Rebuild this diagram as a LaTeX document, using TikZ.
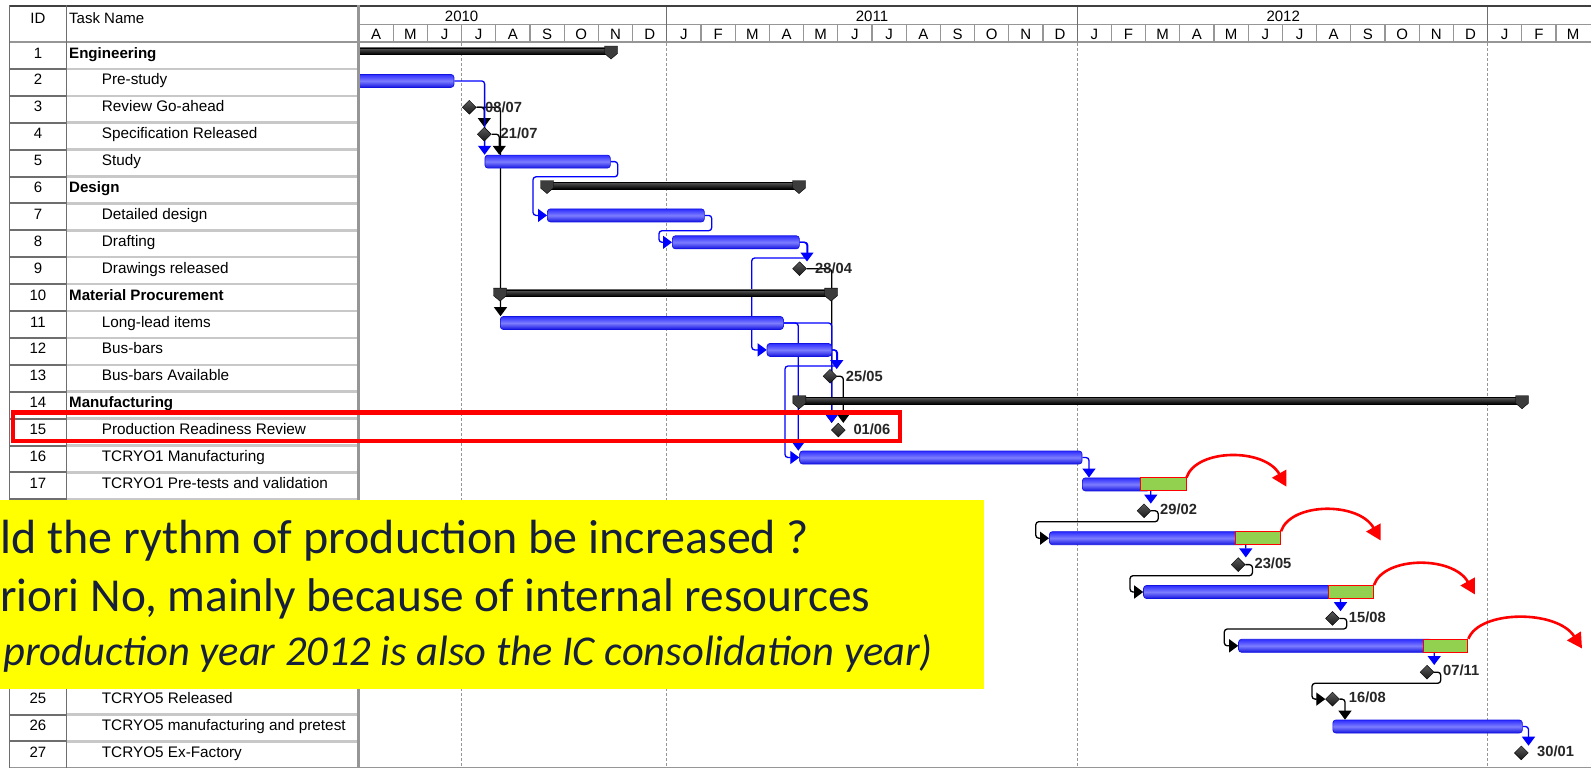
\documentclass[tikz,border=0pt]{standalone}
\usepackage{fontspec}
\setmainfont{Liberation Sans}
\newfontfamily\calib{Carlito}
\usetikzlibrary{arrows.meta,shapes.geometric}
\definecolor{linkblue}{RGB}{0,0,255}
\definecolor{barblue}{RGB}{45,45,255}
\definecolor{barlight}{RGB}{125,125,255}
\definecolor{bardraw}{RGB}{20,20,225}
\definecolor{capgray}{RGB}{60,60,60}
\definecolor{grn}{RGB}{146,208,80}
\definecolor{ylw}{RGB}{255,255,0}
\definecolor{navy}{RGB}{22,32,58}
\definecolor{gridgray}{RGB}{150,150,150}
\definecolor{sepdark}{RGB}{110,110,110}
\definecolor{seplight}{RGB}{200,200,200}
\pgfdeclarelayer{back}
\pgfdeclarelayer{lk}
\pgfdeclarelayer{front}
\pgfsetlayers{back,lk,main,front}
\newcommand{\scap}[2]{\fill[capgray,draw=black,line width=0.4pt] (#1-6.5,#2+4) -- (#1+6.5,#2+4) -- (#1+6.5,#2+11.5) -- (#1,#2+17) -- (#1-6.5,#2+11.5) -- cycle;}
\begin{document}
\begin{tikzpicture}[x=1pt,y=-1pt,
  hdr/.style={font=\fontsize{15}{17}\selectfont, inner sep=0pt, text=black},
  idn/.style={font=\fontsize{15}{17}\selectfont, inner sep=0pt, anchor=base},
  tsk/.style={font=\fontsize{15.3}{17}\selectfont, inner sep=0pt, anchor=base west},
  sumt/.style={font=\bfseries\fontsize{15.1}{17}\selectfont, inner sep=0pt, anchor=base west},
  bar/.style={rectangle, rounded corners=3pt, minimum height=13pt, inner sep=0pt, anchor=west, draw=bardraw, line width=0.7pt, top color=barblue, bottom color=bardraw, middle color=barlight},
  gpart/.style={rectangle, minimum height=13pt, inner sep=0pt, anchor=west, fill=grn, draw=red, line width=1pt},
  sumbar/.style={rectangle, minimum height=6.5pt, inner sep=0pt, anchor=west, top color=gray!70!black, bottom color=black, draw=black, line width=0.4pt},
  ms/.style={diamond, minimum width=14pt, minimum height=14pt, inner sep=0pt, draw=black, line width=0.4pt, top color=gray!70!black, bottom color=black!90},
  dlbl/.style={font=\bfseries\fontsize{14.7}{16}\selectfont, text=black!85, inner sep=0pt, anchor=base west},
  blink/.style={draw=linkblue, line width=1.3pt, rounded corners=3pt, -{Triangle[width=13pt,length=9pt]}},
  klink/.style={draw=black, line width=1.3pt, rounded corners=3pt, -{Triangle[width=13pt,length=9pt]}},
  rarr/.style={draw=red, line width=2.6pt, -{Triangle[width=16pt,length=15pt]}},
  ytxt/.style={font=\calib\fontsize{48}{58}\selectfont, text=navy, inner sep=0pt, anchor=base west}
]
\useasboundingbox (0,0) rectangle (1591,769);
\begin{pgfonlayer}{back}
\fill[white] (0,0) rectangle (1591,769);
\foreach \x in {461.6,666.8,1077.2,1487.6} \draw[gridgray, line width=1.3pt, dash pattern=on 3pt off 2pt] (\x,43) -- (\x,766);
\draw[gridgray, line width=1pt] (358.3,24.3) -- (1591,24.3);
\foreach \i in {1,...,35} \draw[gridgray, line width=1.2pt] ({359+34.2*\i},24.3) -- ({359+34.2*\i},42);
\foreach \i in {9,21,33} \draw[sepdark, line width=1.3pt] ({359+34.2*\i},6) -- ({359+34.2*\i},42);
\foreach \k in {1,...,26} {
  \draw[seplight, line width=2.5pt] (66.7,{42+26.9*\k}) -- (358.3,{42+26.9*\k});
  \draw[sepdark, line width=2pt] (9.3,{42+26.9*\k}) -- (66.7,{42+26.9*\k});
}
\draw[line width=2pt, black!75] (9,6) -- (1591,6);
\draw[line width=2.5pt, gridgray] (9,42) -- (1591,42);
\draw[line width=1.5pt, gridgray] (9,767.5) -- (1591,767.5);
\draw[line width=1.5pt, sepdark] (9.3,5) -- (9.3,768);
\draw[line width=1.3pt, sepdark] (66.7,5) -- (66.7,768);
\end{pgfonlayer}

% header
\node[hdr, anchor=base] (hid) at (38,23) {ID};
\node[hdr, anchor=base west] (htn) at (69,23) {Task Name};
\node[hdr, anchor=base] (y10) at (461.6,21.5) {2010};
\node[hdr, anchor=base] (y11) at (872,21.5) {2011};
\node[hdr, anchor=base] (y12) at (1283.2,21.5) {2012};
\foreach \l [count=\i from 0] in {A,M,J,J,A,S,O,N,D,J,F,M,A,M,J,J,A,S,O,N,D,J,F,M,A,M,J,J,A,S,O,N,D,J,F,M}
  \node[hdr, anchor=base] (mo\i) at ({359+34.2*(\i+0.5)},39) {\l};

% table
\node[idn] (id1) at (38,58) {1};      \node[sumt] (tn1) at (69,58) {Engineering};
\node[idn] (id2) at (38,84.9) {2};    \node[tsk] (tn2) at (101.7,84.9) {Pre-study};
\node[idn] (id3) at (38,111.8) {3};   \node[tsk] (tn3) at (101.7,111.8) {Review Go-ahead};
\node[idn] (id4) at (38,138.7) {4};   \node[tsk] (tn4) at (101.7,138.7) {Specification Released};
\node[idn] (id5) at (38,165.6) {5};   \node[tsk] (tn5) at (101.7,165.6) {Study};
\node[idn] (id6) at (38,192.5) {6};   \node[sumt] (tn6) at (69,192.5) {Design};
\node[idn] (id7) at (38,219.4) {7};   \node[tsk] (tn7) at (101.7,219.4) {Detailed design};
\node[idn] (id8) at (38,246.3) {8};   \node[tsk] (tn8) at (101.7,246.3) {Drafting};
\node[idn] (id9) at (38,273.2) {9};   \node[tsk] (tn9) at (101.7,273.2) {Drawings released};
\node[idn] (id10) at (38,300.1) {10}; \node[sumt] (tn10) at (69,300.1) {Material Procurement};
\node[idn] (id11) at (38,327) {11};   \node[tsk] (tn11) at (101.7,327) {Long-lead items};
\node[idn] (id12) at (38,353.9) {12}; \node[tsk] (tn12) at (101.7,353.9) {Bus-bars};
\node[idn] (id13) at (38,380.8) {13}; \node[tsk] (tn13) at (101.7,380.8) {Bus-bars Available};
\node[idn] (id14) at (38,407.7) {14}; \node[sumt] (tn14) at (69,407.7) {Manufacturing};
\node[idn] (id15) at (38,434.6) {15}; \node[tsk] (tn15) at (101.7,434.6) {Production Readiness Review};
\node[idn] (id16) at (38,461.5) {16}; \node[tsk] (tn16) at (101.7,461.5) {TCRYO1 Manufacturing};
\node[idn] (id17) at (38,488.4) {17}; \node[tsk] (tn17) at (101.7,488.4) {TCRYO1 Pre-tests and validation};
\node[idn] (id25) at (38,703.6) {25}; \node[tsk] (tn25) at (101.7,703.6) {TCRYO5 Released};
\node[idn] (id26) at (38,730.5) {26}; \node[tsk] (tn26) at (101.7,730.5) {TCRYO5 manufacturing and pretest};
\node[idn] (id27) at (38,757.4) {27}; \node[tsk] (tn27) at (101.7,757.4) {TCRYO5 Ex-Factory};

% summary bars
\node[sumbar, minimum width=253pt] (s1) at (358,51) {};
\node[sumbar, minimum width=252pt] (s6) at (547,185.5) {};
\node[sumbar, minimum width=331pt] (s10) at (500,293.1) {};
\node[sumbar, minimum width=722.7pt] (s14) at (799.3,400.7) {};
\scap{611}{42}
\scap{547}{176.5}\scap{799}{176.5}
\scap{500}{284.1}\scap{831}{284.1}
\scap{799.3}{391.7}\scap{1522}{391.7}

% task bars
\node[bar, minimum width=96.6pt] (b2) at (357,80.9) {};
\node[bar, minimum width=125.4pt] (b5) at (484.6,161.6) {};
\node[bar, minimum width=157pt] (b7) at (547,215.4) {};
\node[bar, minimum width=127pt] (b8) at (672,242.3) {};
\node[bar, minimum width=283pt] (b11) at (500,323) {};
\node[bar, minimum width=64.3pt] (b12) at (766.7,349.9) {};
\node[bar, minimum width=282.4pt] (b16) at (799.3,457.5) {};
\node[bar, minimum width=68pt] (b17) at (1082,484.4) {};
\node[bar, minimum width=196pt] (b19) at (1049,538.2) {};
\node[bar, minimum width=194.8pt] (b21) at (1143.2,592) {};
\node[bar, minimum width=193.8pt] (b23) at (1238.2,645.8) {};
\node[bar, minimum width=189.5pt] (b26) at (1332.5,726.5) {};

% milestones
\node[ms] (m3) at (469.3,107.3) {};
\node[ms] (m4) at (484.3,134.2) {};
\node[ms] (m9) at (799.5,268.7) {};
\node[ms] (m13) at (830,376.3) {};
\node[ms] (m15) at (838.3,430.1) {};
\node[ms] (m18) at (1144,510.8) {};
\node[ms] (m20) at (1238.2,564.6) {};
\node[ms] (m22) at (1332.5,618.4) {};
\node[ms] (m24) at (1427,672.2) {};
\node[ms] (m25) at (1332.5,699.1) {};
\node[ms] (m27) at (1521.3,752.9) {};

% date labels
\node[dlbl] (d3) at (485,112) {08/07};
\node[dlbl] (d4) at (500.5,138.9) {21/07};
\node[dlbl] (d9) at (815,273.4) {28/04};
\node[dlbl] (d13) at (845.7,381) {25/05};
\node[dlbl] (d15) at (853.3,434.8) {01/06};
\node[dlbl] (d18) at (1160,514.5) {29/02};
\node[dlbl] (d20) at (1254.4,568.3) {23/05};
\node[dlbl] (d22) at (1348.7,622.1) {15/08};
\node[dlbl] (d24) at (1443,675.9) {07/11};
\node[dlbl] (d25) at (1348.7,702.8) {16/08};
\node[dlbl] (d27) at (1537,756.6) {30/01};

% links
\begin{pgfonlayer}{lk}
\draw[klink] (m3.east) -| (m4.north);
\draw[klink] (m4.east) -| ([xshift=14.7pt]b5.north west);
\draw[klink] (m3.east) -| ([xshift=0.5pt]b11.north west);
\draw[klink] (m9.east) -| ([xshift=-6.6pt]m15.north);
\draw[klink] (m13.east) -| ([xshift=5pt]m15.north);
\draw[klink] (m18.east) -- ++(7,0) |- (1035.8,521.7) |- (b19.west);
\draw[klink] (m20.east) -- ++(7,0) |- (1130,575.7) |- (b21.west);
\draw[klink] (m22.east) -- ++(7,0) |- (1224.3,629) |- (b23.west);
\draw[klink] (m24.east) -- ++(6.5,0) |- (1312,683.3) |- (m25.west);
\draw[klink] (m25.east) -| ([xshift=12.5pt]b26.north west);
\draw[blink] (b2.east) -| (b5.north west);
\draw[blink] (b5.east) -- ++(7,0) |- (533,176.8) |- (b7.west);
\draw[blink] (b7.east) -- ++(7,0) |- (659,230.7) |- (b8.west);
\draw[blink] (b8.east) -| ([xshift=7.5pt]m9.north);
\draw[blink] (b8.east) -- ++(8,0) |- (751.7,258) |- (b12.west);
\draw[blink] (b11.east) -| ([xshift=-1pt]b16.north west);
\draw[blink] (b11.east) -| ([xshift=-6.6pt]m15.north);
\draw[blink] (b12.east) -| ([xshift=6.7pt]m13.north);
\draw[blink] (b12.east) -- ++(5.7,0) |- (785,366) |- (b16.west);
\draw[blink] (b16.east) -| ([xshift=7pt]b17.north west);
\draw[blink] (b17.east) -| ([xshift=6.8pt]m18.north);
\draw[blink] (b19.east) -| ([xshift=7.6pt]m20.north);
\draw[blink] (b21.east) -| ([xshift=8pt]m22.north);
\draw[blink] (b23.east) -| ([xshift=7.2pt]m24.north);
\draw[blink] (b26.east) -| ([xshift=7.2pt]m27.north);
\end{pgfonlayer}

\begin{pgfonlayer}{front}
\draw[line width=2.5pt, gridgray] (358.3,5) -- (358.3,768);
\node[gpart, minimum width=45.5pt] (g17) at (1140,484.4) {};
\node[gpart, minimum width=45.5pt] (g19) at (1234.5,538.2) {};
\node[gpart, minimum width=45pt] (g21) at (1328,592) {};
\node[gpart, minimum width=44.4pt] (g23) at (1423,645.8) {};
\coordinate (t17) at (1286.5,486.7);
\coordinate (t19) at (1380.7,540.5);
\coordinate (t21) at (1475,594.5);
\coordinate (t23) at (1582,648.5);
\draw[rarr] (g17.north east) .. controls +(10,-29) and +(-22,-39) .. (t17);
\draw[rarr] (g19.north east) .. controls +(10,-29) and +(-22,-39) .. (t19);
\draw[rarr] (g21.north east) .. controls +(10,-29) and +(-22,-39) .. (t21);
\draw[rarr] (g23.north east) .. controls +(11,-29) and +(-25,-39) .. (t23);
\draw[red, line width=4.5pt] (13,412.5) rectangle (900,441);
\fill[ylw] (0,500) rectangle (984,689);
\node[ytxt] (q1) at (0,553) {ld the rythm of production be increased ?};
\node[ytxt, font=\calib\fontsize{47.3}{58}\selectfont] (q2) at (0,611) {riori No, mainly because of internal resources};
\node[ytxt, font=\calib\itshape\fontsize{42.5}{58}\selectfont] (q3) at (3,665) {production year 2012 is also the IC consolidation year)};
\end{pgfonlayer}
\end{tikzpicture}
\end{document}
